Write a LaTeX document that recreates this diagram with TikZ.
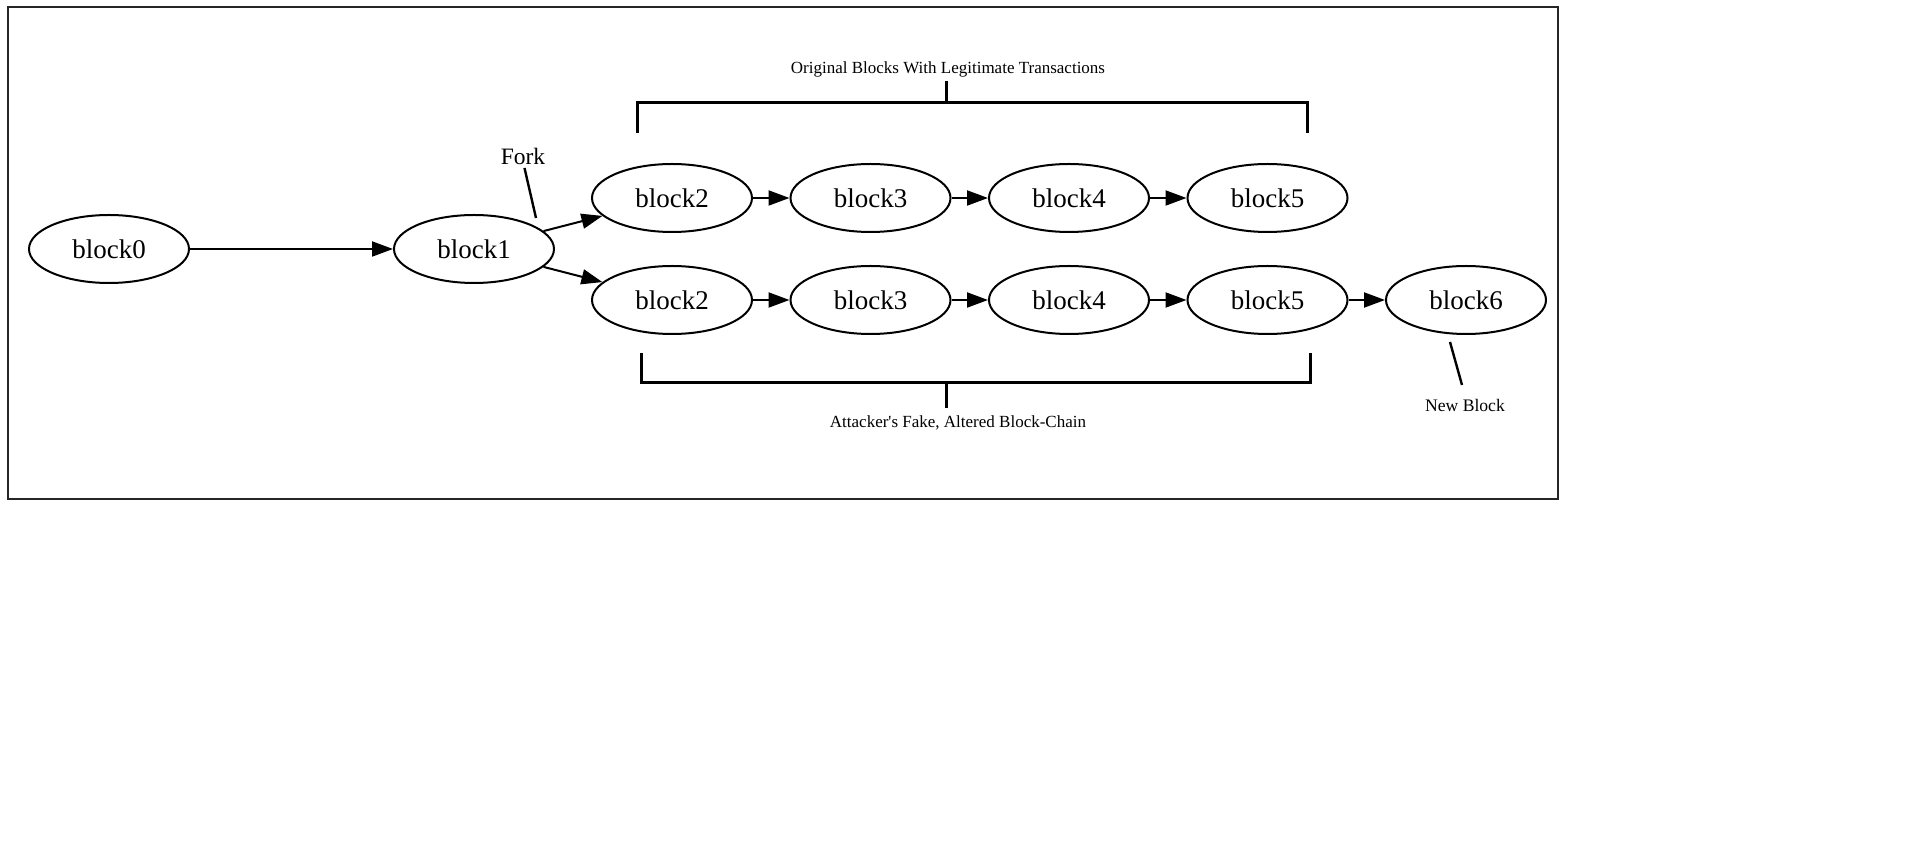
\documentclass[tikz,border=0pt]{standalone}
\usepackage{fontspec}
\setmainfont{Liberation Serif}
\usetikzlibrary{arrows.meta,shapes.geometric}

\begin{document}
\begin{tikzpicture}[x=0.5pt,y=-0.5pt,
  blk/.style={ellipse,draw,line width=1pt,minimum width=80pt,minimum height=34pt,
              inner sep=0pt,font=\fontsize{13.5}{15}\selectfont},
  link/.style={line width=1pt,-{Triangle[length=10.5pt,width=7.5pt]}},
  bracketline/.style={line width=1.5pt},
  note/.style={inner sep=0pt,font=\fontsize{8.5}{10}\selectfont},
  pointer/.style={line width=1.2pt}]

% canvas and outer frame
\fill[white] (0,0) rectangle (1907,860);
\useasboundingbox (0,0) rectangle (1907,860);
\draw[line width=1.2pt,black!85] (8,7) rectangle (1558,499);

% genesis part of the chain
\node[blk] (b0) at (109,249) {block0};
\node[blk] (b1) at (474,249) {block1};

% honest branch
\node[blk] (t2) at (672,198) {block2};
\node[blk] (t3) at (870.5,198) {block3};
\node[blk] (t4) at (1069,198) {block4};
\node[blk] (t5) at (1267.5,198) {block5};

% attacker branch
\node[blk] (a2) at (672,300) {block2};
\node[blk] (a3) at (870.5,300) {block3};
\node[blk] (a4) at (1069,300) {block4};
\node[blk] (a5) at (1267.5,300) {block5};
\node[blk] (a6) at (1466,300) {block6};

% links
\draw[link] (b0) -- (b1);
\draw[link] (b1) -- (t2);
\draw[link] (b1) -- (a2);
\draw[link] (t2) -- (t3);
\draw[link] (t3) -- (t4);
\draw[link] (t4) -- (t5);
\draw[link] (a2) -- (a3);
\draw[link] (a3) -- (a4);
\draw[link] (a4) -- (a5);
\draw[link] (a5) -- (a6);

% bracket over the honest branch
\node[note] (topnote) at (948,69) {Original Blocks With Legitimate Transactions};
\coordinate (tl) at (637,133);
\coordinate (tr) at (1307,133);
\coordinate (tm) at (946,103);
\draw[bracketline] (tl) |- (tm) -| (tr);
\draw[bracketline] (tm) -- (tm |- 0,81);

% bracket under the attacker branch
\node[note] (botnote) at (958,423) {Attacker\textquotesingle s Fake, Altered Block-Chain};
\coordinate (bl) at (641,353);
\coordinate (br) at (1310,353);
\coordinate (bm) at (946,383);
\draw[bracketline] (bl) |- (bm) -| (br);
\draw[bracketline] (bm) -- (bm |- 0,408);

% pointers
\node[inner sep=0pt,font=\fontsize{11.75}{13}\selectfont] (fork) at (523,156) {Fork};
\coordinate (forktip) at (536,218);
\draw[pointer] (524.5,168) -- (forktip);

\node[note,font=\fontsize{8.8}{10}\selectfont] (newblk) at (1465,405) {New Block};
\coordinate (newtip) at (1450,342);
\draw[pointer] (newtip) -- (1462,385);
\end{tikzpicture}
\end{document}
